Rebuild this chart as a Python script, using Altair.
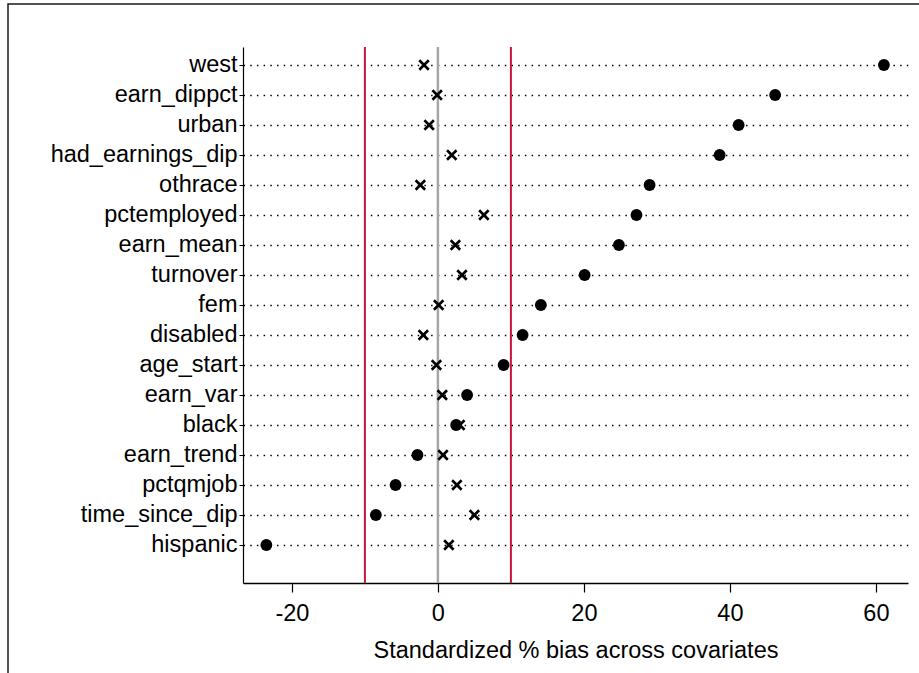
import altair as alt
import pandas as pd

# Covariates, top to bottom
covariates = [
    "west", "earn_dippct", "urban", "had_earnings_dip", "othrace",
    "pctemployed", "earn_mean", "turnover", "fem", "disabled",
    "age_start", "earn_var", "black", "earn_trend", "pctqmjob",
    "time_since_dip", "hispanic",
]
# Standardized % bias before matching (unmatched sample)
bias_unmatched = [
    61.1, 46.2, 41.2, 38.6, 29.0, 27.2, 24.8, 20.1, 14.1, 11.6,
    9.0, 4.0, 2.5, -2.8, -5.8, -8.5, -23.5,
]
# Standardized % bias after matching
bias_matched = [
    -1.9, -0.1, -1.2, 1.9, -2.4, 6.3, 2.4, 3.3, 0.1, -2.0,
    -0.2, 0.6, 3.0, 0.7, 2.6, 5.0, 1.5,
]
x_ticks = [-20, 0, 20, 40, 60]
threshold_lines = [-10, 10]
zero_line = [0]

FONT = "Liberation Sans"
FS = 23.5
W, H = 665, 536

df = pd.DataFrame({
    "idx": list(range(len(covariates))),
    "covariate": covariates,
    "unmatched": bias_unmatched,
    "matched": bias_matched,
})

label_array = "[" + ",".join("'" + c + "'" for c in covariates) + "]"

x_scale = alt.Scale(domain=[-26.7, 64.4], nice=False, zero=False)
y_scale = alt.Scale(domain=[-0.6, len(covariates) + 0.267], reverse=True, nice=False, zero=False)

x_axis = alt.Axis(
    values=x_ticks, title="Standardized % bias across covariates",
    labelExpr="'' + datum.value",
    grid=False, tickSize=9, tickColor="black", domainColor="black",
    domainWidth=1.5, tickWidth=1.2, labelFontSize=FS, titleFontSize=FS,
    labelFont=FONT, titleFont=FONT, labelColor="black", titleColor="black",
    titleFontWeight="normal", labelPadding=9, titlePadding=14,
    labelOverlap=False,
)
y_axis = alt.Axis(
    values=list(range(len(covariates))), title=None,
    labelExpr=label_array + "[datum.value]",
    grid=True, gridDash=[1.5, 5.2], gridColor="black", gridWidth=1.5,
    tickSize=4, tickColor="black", domainColor="black", domainWidth=1.2,
    labelFontSize=FS, labelFont=FONT, labelColor="black", labelPadding=2,
    labelOverlap=False, labelBound=False, labelLimit=400,
)


def xenc(field):
    return alt.X(field, scale=x_scale, axis=x_axis, title="Standardized % bias across covariates")


def yenc(field):
    return alt.Y(field, scale=y_scale, axis=y_axis, title=None)


base = alt.Chart(df)

# Outer frame around the graph region
frame = alt.Chart(pd.DataFrame({"k": [0]})).mark_rect(
    fillOpacity=0, stroke="#1a1a1a", strokeWidth=1.5
).encode(
    x=alt.value(-235), x2=alt.value(W + 60),
    y=alt.value(-43), y2=alt.value(H + 200),
)

red_rules = alt.Chart(pd.DataFrame({"v": threshold_lines})).mark_rule(
    color="#c8143c", strokeWidth=2
).encode(x=xenc("v:Q"))

gray_rule = alt.Chart(pd.DataFrame({"v": zero_line})).mark_rule(
    color="#a6a6a6", strokeWidth=2.5
).encode(x=xenc("v:Q"))

unmatched_pts = base.mark_point(
    filled=True, color="black", size=140, opacity=1, shape="circle"
).encode(x=xenc("unmatched:Q"), y=yenc("idx:Q"))

matched_pts = base.mark_point(
    filled=False, color="black", size=90, opacity=1, strokeWidth=2.6,
    shape="M-1,-1L1,1M-1,1L1,-1",
).encode(x=xenc("matched:Q"), y=yenc("idx:Q"))

chart = alt.layer(
    frame, red_rules, gray_rule, unmatched_pts, matched_pts
).properties(
    width=W, height=H,
    padding={"left": 243, "top": 47, "right": 11, "bottom": 90},
    autosize=alt.AutoSizeParams(type="none"),
    background="white",
).configure_view(stroke=None)

chart.save("out.html", embed_options={"renderer": "svg", "actions": False})
